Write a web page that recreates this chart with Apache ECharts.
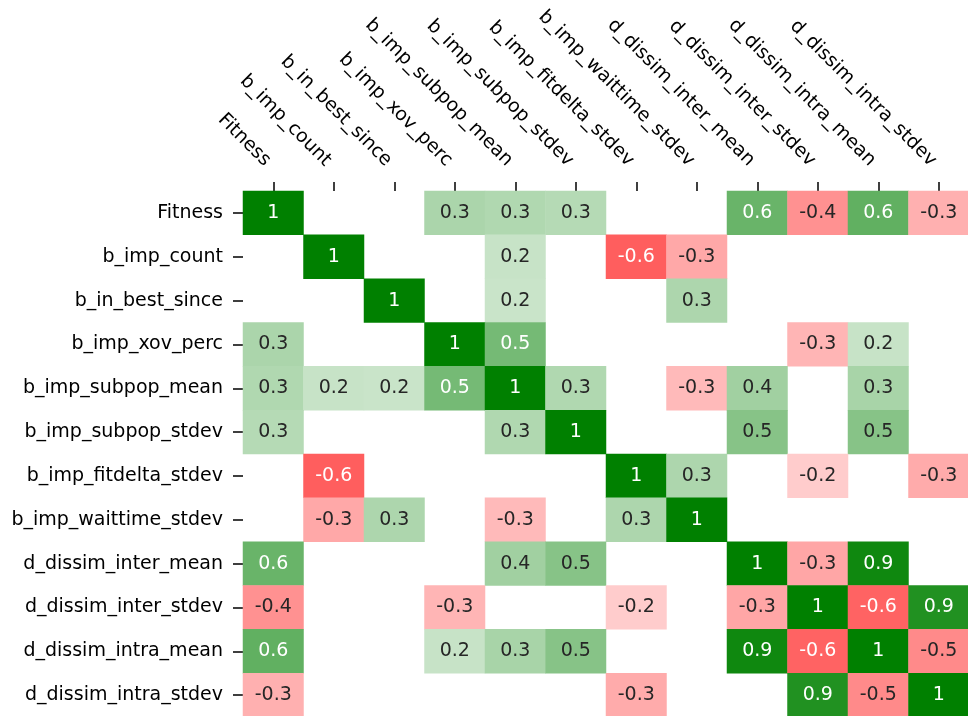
<!DOCTYPE html>
<html>
<head>
<meta charset="utf-8">
<script src="https://cdn.jsdelivr.net/npm/echarts@6/dist/echarts.min.js"></script>
<style>
  html, body { margin: 0; padding: 0; background: #ffffff; }
  #chart { width: 968px; height: 716px; }
</style>
</head>
<body>
<div id="chart"></div>
<script>
// Variable names (same order on both axes)
const variables = [
  'Fitness', 'b_imp_count', 'b_in_best_since', 'b_imp_xov_perc',
  'b_imp_subpop_mean', 'b_imp_subpop_stdev', 'b_imp_fitdelta_stdev',
  'b_imp_waittime_stdev', 'd_dissim_inter_mean', 'd_dissim_inter_stdev',
  'd_dissim_intra_mean', 'd_dissim_intra_stdev'
];

// Correlation matrix; null = weak correlation, left blank
const corr = [
  [1, null, null, 0.33, 0.31, 0.29, null, null, 0.59, -0.43, 0.62, -0.31],
  [null, 1, null, null, 0.22, null, -0.63, -0.34, null, null, null, null],
  [null, null, 1, null, 0.21, null, null, 0.32, null, null, null, null],
  [0.33, null, null, 1, 0.54, null, null, null, null, -0.29, 0.22, null],
  [0.31, 0.22, 0.21, 0.54, 1, 0.31, null, -0.27, 0.37, null, 0.34, null],
  [0.29, null, null, null, 0.31, 1, null, null, 0.47, null, 0.47, null],
  [null, -0.63, null, null, null, null, 1, 0.32, null, -0.2, null, -0.33],
  [null, -0.34, 0.32, null, -0.27, null, 0.32, 1, null, null, null, null],
  [0.59, null, null, null, 0.37, 0.47, null, null, 1, -0.35, 0.94, null],
  [-0.43, null, null, -0.29, null, null, -0.2, null, -0.35, 1, -0.61, 0.87],
  [0.62, null, null, 0.22, 0.34, 0.47, null, null, 0.94, -0.61, 1, -0.46],
  [-0.31, null, null, null, null, null, -0.33, null, null, 0.87, -0.46, 1]
];

const FONT = 'DejaVu Sans';
const DARK = '#262626';
const AXIS_TEXT = '#000000';

// red -> white -> green, mirrored in the visualMap below; used to pick a readable label colour
function cellRGB(v) {
  const t = Math.min(1, Math.abs(v));
  if (v >= 0) return [255 * (1 - t), 255 - 127 * t, 255 * (1 - t)];
  return [255, 255 * (1 - t), 255 * (1 - t)];
}
function luminance(rgb) {
  const lin = rgb.map(c => {
    c = c / 255;
    return c <= 0.03928 ? c / 12.92 : Math.pow((c + 0.055) / 1.055, 2.4);
  });
  return 0.2126 * lin[0] + 0.7152 * lin[1] + 0.0722 * lin[2];
}

const cells = [];
corr.forEach((row, yi) => {
  row.forEach((v, xi) => {
    if (v === null) return;
    const light = luminance(cellRGB(v)) > 0.408;
    cells.push({ value: [xi, yi, v], label: { color: light ? DARK : '#ffffff' } });
  });
});

const chart = echarts.init(document.getElementById('chart'), null, { renderer: 'canvas' });
chart.setOption({
  animation: false,
  backgroundColor: '#ffffff',
  grid: { left: 243, top: 191, width: 726, height: 526, containLabel: false, outerBoundsMode: 'none' },
  xAxis: {
    type: 'category',
    position: 'top',
    data: variables,
    axisLine: { show: false },
    axisTick: { show: true, alignWithLabel: true, length: 9, lineStyle: { color: '#000', width: 1.5 } },
    axisLabel: {
      interval: 0, rotate: 45, margin: 22, padding: [0, 8, 0, 0],
      fontSize: 19, fontFamily: FONT, color: AXIS_TEXT
    },
    splitLine: { show: false },
    splitArea: { show: false }
  },
  yAxis: {
    type: 'category',
    inverse: true,
    data: variables,
    axisLine: { show: false },
    axisTick: { show: true, alignWithLabel: true, length: 10, lineStyle: { color: '#000', width: 1.5 } },
    axisLabel: { interval: 0, margin: 20, fontSize: 19, fontFamily: FONT, color: AXIS_TEXT },
    splitLine: { show: false },
    splitArea: { show: false }
  },
  visualMap: {
    show: false,
    min: -1,
    max: 1,
    dimension: 2,
    inRange: { color: ['#ff0000', '#ffffff', '#008000'] }
  },
  series: [{
    type: 'heatmap',
    data: cells,
    label: {
      show: true,
      fontSize: 19,
      fontFamily: FONT,
      formatter: p => String(Number(p.value[2].toPrecision(1)))
    },
    itemStyle: { borderWidth: 0 },
    emphasis: { disabled: true }
  }]
});
</script>
</body>
</html>
